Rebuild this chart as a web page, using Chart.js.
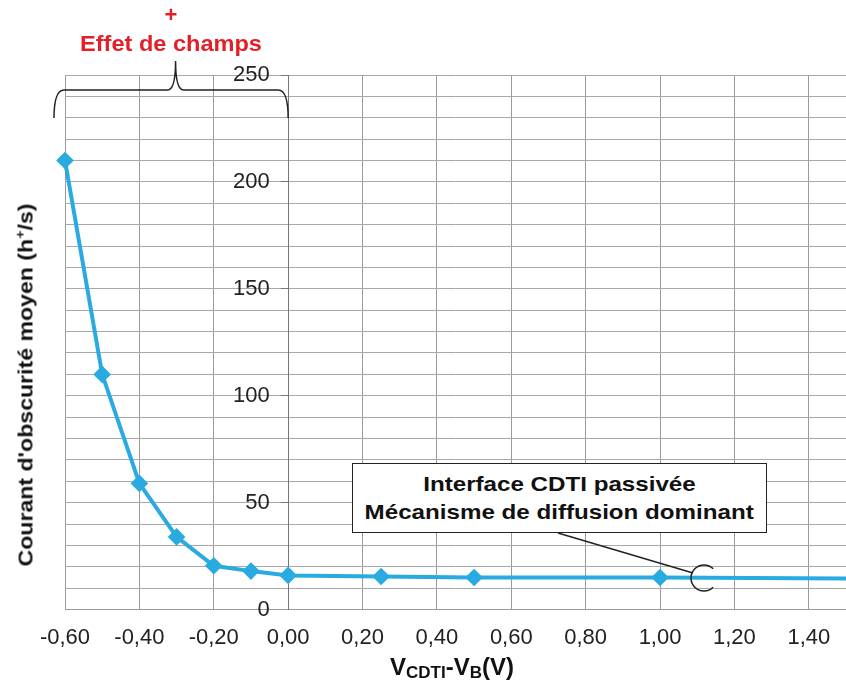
<!DOCTYPE html>
<html>
<head>
<meta charset="utf-8">
<script src="https://cdn.jsdelivr.net/npm/chart.js@4.4.0/dist/chart.umd.min.js"></script>
<style>
  html, body { margin: 0; padding: 0; background: #fff; }
  #wrap { position: relative; width: 846px; height: 684px; overflow: hidden; font-family: Arial, "Liberation Sans", sans-serif; }
  #myChart { position: absolute; left: 0; top: 0; }
  .lbl { position: absolute; white-space: nowrap; font-weight: bold; }
  #plus { left: 171px; top: 15px; transform: translate(-50%, -50%); color: #e3202a; font-size: 22px; }
  #effet { left: 171px; top: 44px; transform: translate(-50%, -50%) scaleX(1.07); color: #e3202a; font-size: 22px; }
  #ytitle { left: 25px; top: 385px; transform: translate(-50%, -50%) rotate(-90deg) scaleX(1.1); color: #111; font-size: 21px; }
  #xtitle { left: 452px; top: 668px; transform: translate(-50%, -50%); color: #111; font-size: 24px; }
  #xtitle sub { font-size: 17px; vertical-align: -3px; }
  #ytitle sup { font-size: 13px; }
  #callout { left: 352px; top: 463px; width: 415px; height: 70px; border: 1.5px solid #222; background: #fff;
    color: #111; font-size: 21px; line-height: 28px; text-align: center; padding-top: 6px; box-sizing: border-box; }
  #callout span { display: inline-block; transform: scaleX(1.15); }
</style>
</head>
<body>
<div id="wrap">
  <!-- canvas a bit wider than the frame: the plot has to run up to the right edge -->
  <canvas id="myChart" width="856" height="684"></canvas>
  <div class="lbl" id="plus">+</div>
  <div class="lbl" id="effet">Effet de champs</div>
  <div class="lbl" id="ytitle">Courant d'obscurité moyen (h<sup>+</sup>/s)</div>
  <div class="lbl" id="xtitle">V<sub>CDTI</sub>-V<sub>B</sub>(V)</div>
  <div class="lbl" id="callout"><span>Interface CDTI passivée</span><br><span>Mécanisme de diffusion dominant</span></div>
</div>
<script>
  // values
  const tensions = [-0.6, -0.5, -0.4, -0.3, -0.2, -0.1, 0.0, 0.25, 0.5, 1.0, 1.5];
  const courant = [210, 110, 59, 34, 20.5, 18, 16, 15.5, 15, 15, 14.5];
  const markerShown = [true, true, true, true, true, true, true, true, true, true, false];
  const xTicks = [-0.6, -0.4, -0.2, 0, 0.2, 0.4, 0.6, 0.8, 1.0, 1.2, 1.4];
  const yLabels = [0, 50, 100, 150, 200, 250];

  const points = tensions.map((x, i) => ({ x: x, y: courant[i] }));

  // brace over the field-effect zone and the callout pointer
  const annotations = {
    id: 'annotations',
    afterDraw(chart) {
      const ctx = chart.ctx;
      const xs = chart.scales.x;
      const left = xs.getPixelForValue(-0.6) - 11;
      const right = xs.getPixelForValue(0);
      const mid = xs.getPixelForValue(-0.3) - 1;
      const yb = 118, yh = 90, yt = 61;
      ctx.save();
      ctx.strokeStyle = '#222';
      ctx.lineWidth = 1.5;
      ctx.beginPath();
      ctx.moveTo(left, yb);
      ctx.quadraticCurveTo(left, yh, left + 10, yh);
      ctx.lineTo(mid - 8, yh);
      ctx.quadraticCurveTo(mid, yh, mid, yt);
      ctx.quadraticCurveTo(mid, yh, mid + 8, yh);
      ctx.lineTo(right - 10, yh);
      ctx.quadraticCurveTo(right, yh, right, yb);
      ctx.stroke();

      // pointer line + open circle
      const cx = 704, cy = 578, r = 13;
      ctx.beginPath();
      ctx.moveTo(558, 533);
      ctx.lineTo(cx - 11, cy - 5);
      ctx.stroke();
      ctx.beginPath();
      ctx.arc(cx, cy, r, 0.25 * Math.PI, 1.75 * Math.PI);
      ctx.stroke();
      ctx.restore();
    }
  };

  const fmt = v => v.toFixed(2).replace('.', ',');

  new Chart(document.getElementById('myChart').getContext('2d'), {
    type: 'scatter',
    data: {
      datasets: [{
        data: points,
        showLine: true,
        borderColor: '#29abe2',
        backgroundColor: '#29abe2',
        borderWidth: 4,
        pointStyle: 'rectRot',
        pointRadius: ctx => markerShown[ctx.dataIndex] ? 6 : 0,
        pointHoverRadius: 6,
        clip: { left: 12, top: 12, right: 0, bottom: 0 }
      }]
    },
    options: {
      responsive: false,
      animation: false,
      layout: { padding: { left: 65, top: 75, right: 0, bottom: 18 } },
      plugins: { legend: { display: false }, tooltip: { enabled: false } },
      scales: {
        x: {
          type: 'linear',
          min: -0.6,
          max: 1.5,
          afterBuildTicks: axis => { axis.ticks = xTicks.map(v => ({ value: v })).concat([{ value: 1.5 }]); },
          afterFit: axis => { axis.paddingRight = 0; },
          ticks: {
            font: { family: 'Arial, "Liberation Sans", sans-serif', size: 22 },
            color: '#222',
            padding: 15,
            maxRotation: 0,
            autoSkip: false,
            callback: v => xTicks.some(t => Math.abs(t - v) < 1e-6) ? fmt(v) : ''
          },
          grid: { color: '#9a9a9a', lineWidth: 1, drawTicks: false },
          border: { color: '#9a9a9a' }
        },
        y: {
          position: { x: 0 },
          min: 0,
          max: 250,
          ticks: {
            stepSize: 10,
            font: { family: 'Arial, "Liberation Sans", sans-serif', size: 22 },
            color: '#222',
            autoSkip: false,
            // labels sit right against the axis when it is placed at x = 0, so pad them with spaces
            callback: v => yLabels.includes(v) ? String(v) + '   ' : ''
          },
          grid: {
            color: '#a8a8a8',
            lineWidth: 1,
            tickLength: 7,
            tickColor: ctx => yLabels.includes(ctx.tick && ctx.tick.value) ? '#777' : 'rgba(0,0,0,0)'
          },
          border: { color: '#777' }
        }
      }
    },
    plugins: [annotations]
  });
</script>
</body>
</html>
